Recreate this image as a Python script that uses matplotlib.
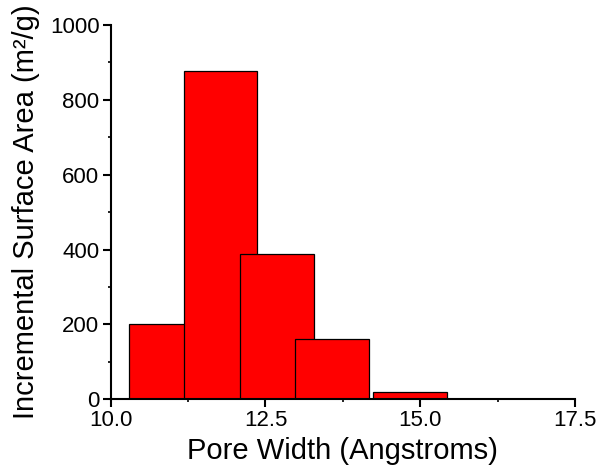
import matplotlib
matplotlib.use('Agg')
import matplotlib.pyplot as plt
from matplotlib.ticker import MultipleLocator

# 細孔径分布（左端・幅・面積）
bin_left = [10.30, 11.18, 12.09, 12.98, 14.24]
bin_width = [1.19, 1.19, 1.19, 1.19, 1.19]
surface_area = [200, 878, 388, 160, 19]

plt.rcParams['font.family'] = ['Liberation Sans', 'DejaVu Sans']

fig = plt.figure(figsize=(6.01, 4.73), dpi=100)
ax = fig.add_axes([0.184, 0.156, 0.773, 0.791])

# 後のバーが前のバーの上に重なる
for i in range(len(bin_left)):
    ax.bar(bin_left[i], surface_area[i], width=bin_width[i], align='edge',
           color='#ff0000', edgecolor='black', linewidth=0.9, zorder=2 + i)

ax.set_xlim(10.0, 17.5)
ax.set_ylim(0, 1000)
ax.xaxis.set_major_locator(MultipleLocator(2.5))
ax.xaxis.set_minor_locator(MultipleLocator(1.25))
ax.yaxis.set_major_locator(MultipleLocator(200))
ax.yaxis.set_minor_locator(MultipleLocator(100))
ax.xaxis.set_major_formatter(plt.FormatStrFormatter('%.1f'))

for s in ['top', 'right']:
    ax.spines[s].set_visible(False)
for s in ['left', 'bottom']:
    ax.spines[s].set_linewidth(1.5)
    ax.spines[s].set_zorder(10)

ax.tick_params(which='major', direction='out', length=6, width=1.5, labelsize=16, pad=2)
ax.tick_params(which='minor', direction='out', length=2.5, width=1.2)

ax.set_xlabel('Pore Width (Angstroms)', fontsize=21, labelpad=4)
ax.set_ylabel('Incremental Surface Area (m²/g)', fontsize=21, labelpad=7)

plt.savefig('out.png', dpi=100)
